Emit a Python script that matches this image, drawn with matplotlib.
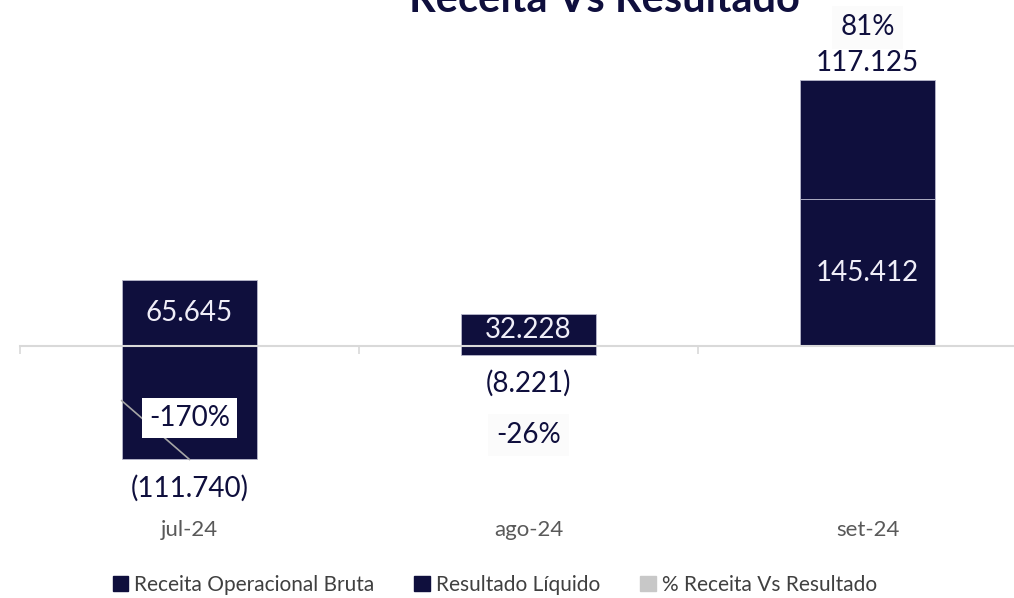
import matplotlib.pyplot as plt
from matplotlib.patches import Patch

# données
meses = ['jul-24', 'ago-24', 'set-24']
receita = [65645, 32228, 145412]
resultado = [-111740, -8221, 117125]
pct = [-170, -26, 81]

navy = '#0f0f3d'
cinza = '#c8c8c8'

plt.rcParams['font.family'] = ['Lato', 'DejaVu Sans']

fig = plt.figure(figsize=(10.14, 5.98), dpi=100)
ax = fig.add_axes([20 / 1014, 118 / 598, 994 / 1014, 450 / 598])

x = range(len(meses))
largura = 0.4

# empilhamento : negativo parte de 0, positivo em cima da receita
base_res = [r if v > 0 else 0 for r, v in zip(receita, resultado)]
ax.bar(x, receita, width=largura, color=navy, edgecolor='#b8b8cc', linewidth=0.6, zorder=2)
ax.bar(x, resultado, width=largura, bottom=base_res, color=navy, edgecolor='#b8b8cc', linewidth=0.6, zorder=2)

ax.set_xlim(-0.5, -0.5 + 994 / 339)
ax.set_ylim(-132000, 312000)

for s in ['top', 'right', 'left']:
    ax.spines[s].set_visible(False)
ax.spines['bottom'].set_position(('data', 0))
ax.spines['bottom'].set_color('#d9d9d9')
ax.spines['bottom'].set_linewidth(1.5)
ax.set_yticks([])
ax.set_xticks([])
ax.set_xticks([-0.5, 0.5, 1.5], minor=True)
ax.tick_params(axis='x', which='minor', direction='out', length=6, width=1.2, color='#d9d9d9')
ax.set_xticklabels([], minor=True)

for i, m in enumerate(meses):
    ax.text(i, -0.11, m, transform=ax.get_xaxis_transform(), ha='center', va='center',
            fontsize=16, color='#595959')

# rótulos receita (centro do segmento)
for i, v in enumerate(receita):
    ax.text(i, v / 2, f'{v:,}'.replace(',', '.'), ha='center', va='center',
            fontsize=20, color='#f0eef8', zorder=4)

# rótulos resultado (fora da ponta)
fim = []
for i, v in enumerate(resultado):
    topo = base_res[i] + v
    fim.append(topo)
    txt = f'{abs(v):,}'.replace(',', '.')
    if v < 0:
        txt = f'({txt})'
        off = -21
    else:
        off = 12
    ax.annotate(txt, (i, topo), xytext=(0, off), textcoords='offset points',
                ha='center', va='center', fontsize=20, color=navy, zorder=4)

# rótulos %
desloc = [(0, 30), (0, -58), (0, 38)]
for i, p in enumerate(pct):
    if i == 0:
        # caixa com linha de chamada
        ax.annotate(f'{p}%', (i, fim[i]), xytext=desloc[i], textcoords='offset points',
                    ha='center', va='center', fontsize=20, color=navy, zorder=5,
                    bbox=dict(boxstyle='square,pad=0.25', fc='white', ec='none'))
        ax.plot([i - largura / 2, i], [fim[i] + 58000, fim[i]], color='#a6a6a6', lw=1.2, zorder=3)
    else:
        ax.annotate(f'{p}%', (i, fim[i]), xytext=desloc[i], textcoords='offset points',
                    ha='center', va='center', fontsize=20, color=navy, zorder=5,
                    bbox=dict(boxstyle='square,pad=0.3', fc='#fbfbfb', ec='none'))

fig.text(604 / 1014, 1 - 12 / 598, 'Receita Vs Resultado', ha='center', va='baseline',
         fontsize=30, fontweight='bold', color=navy)

handles = [Patch(color=navy), Patch(color=navy), Patch(color=cinza)]
labels = ['Receita Operacional Bruta', 'Resultado Líquido', '% Receita Vs Resultado']
fig.legend(handles, labels, loc='center', bbox_to_anchor=(0.488, 13 / 598), ncol=3,
           frameon=False, fontsize=15, handlelength=0.75, handleheight=0.75,
           handletextpad=0.3, columnspacing=1.9, labelcolor='#404040')

fig.savefig('out.png', dpi=100)
